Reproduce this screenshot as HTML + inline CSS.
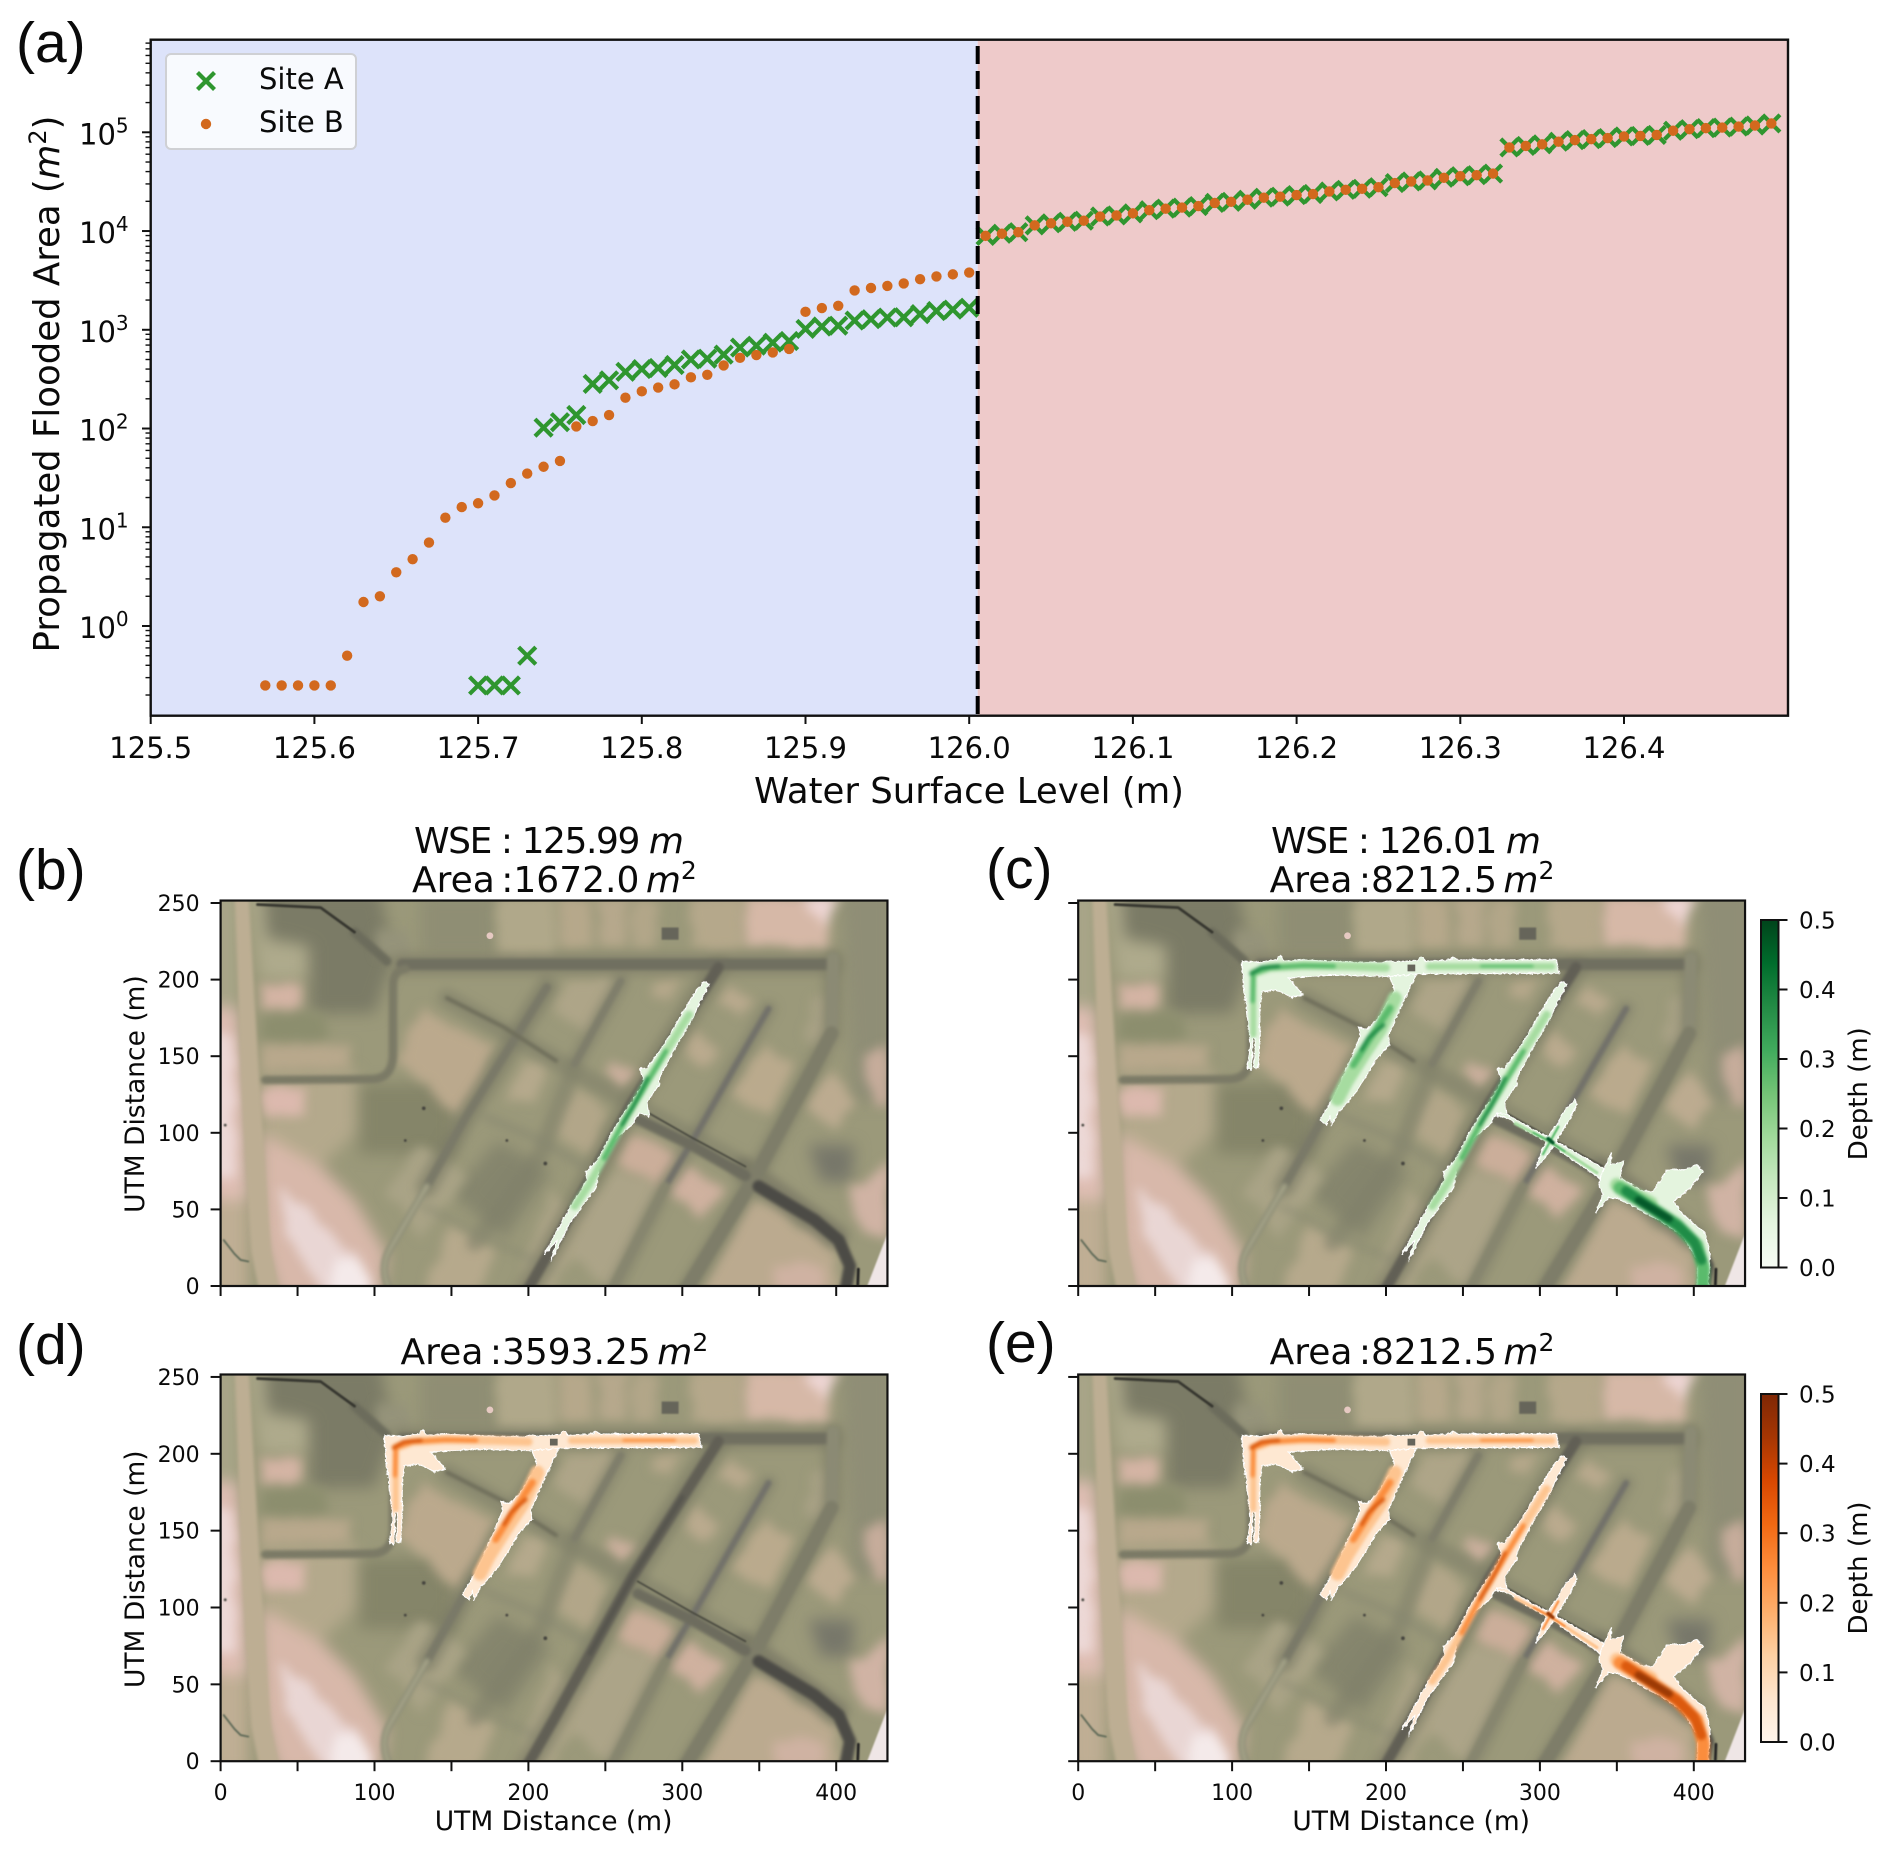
<!DOCTYPE html>
<html lang="en">
<head>
<meta charset="utf-8">
<title>Propagated flooded area versus water surface level</title>
<style>
html,body{margin:0;padding:0;background:#fff;}
svg{display:block;}
text{font-family:"DejaVu Sans","Liberation Sans",sans-serif;fill:#0a0a0a;}
.panel-tag{font-family:"Liberation Sans",sans-serif;font-size:57px;}
.tight{word-spacing:-5px;}
.green{--d0:#e4f4de;--d1:#a6dca0;--d2:#5abb6c;--d3:#1f8c47;--d4:#04592a;}
.orange{--d0:#fee8d2;--d1:#fdc48f;--d2:#fb8d3d;--d3:#dc5a0e;--d4:#9c3a05;}
.f0{fill:var(--d0);stroke:#fff;stroke-width:.7;}
.l1,.l2,.l3,.l4{fill:none;stroke-linecap:round;stroke-linejoin:round;}
.l1{stroke:var(--d1);}
.l2{stroke:var(--d2);}
.l3{stroke:var(--d3);}
.l4{stroke:var(--d4);}
</style>
</head>
<body>
<svg id="figure" xmlns="http://www.w3.org/2000/svg" width="1892" height="1853" viewBox="0 0 1892 1853">
<defs>
  <clipPath id="map-clip"><rect x="0" y="0" width="433.3" height="251.6"/></clipPath>
  <filter id="b8" filterUnits="userSpaceOnUse" x="-40" y="-40" width="520" height="340" color-interpolation-filters="sRGB"><feGaussianBlur stdDeviation="5"/></filter>
  <filter id="b3" filterUnits="userSpaceOnUse" x="-40" y="-40" width="520" height="340" color-interpolation-filters="sRGB"><feGaussianBlur stdDeviation="3"/></filter>
  <filter id="b1" filterUnits="userSpaceOnUse" x="-40" y="-40" width="520" height="340" color-interpolation-filters="sRGB"><feGaussianBlur stdDeviation="1"/></filter>
  <filter id="bf" filterUnits="userSpaceOnUse" x="-40" y="-40" width="520" height="340" color-interpolation-filters="sRGB"><feGaussianBlur stdDeviation="0.6"/></filter>
  <filter id="bd" filterUnits="userSpaceOnUse" x="-40" y="-40" width="520" height="340" color-interpolation-filters="sRGB"><feGaussianBlur stdDeviation="1.1"/></filter>
  <filter id="rb" filterUnits="userSpaceOnUse" x="-40" y="-40" width="520" height="340" color-interpolation-filters="sRGB">
    <feTurbulence type="fractalNoise" baseFrequency=".07" numOctaves="3" seed="5" result="n"/>
    <feDisplacementMap in="SourceGraphic" in2="n" scale="8" xChannelSelector="R" yChannelSelector="G" result="d"/>
    <feGaussianBlur in="d" stdDeviation="3.4"/>
  </filter>
  <filter id="rough" filterUnits="userSpaceOnUse" x="-40" y="-40" width="520" height="340" color-interpolation-filters="sRGB">
    <feTurbulence type="fractalNoise" baseFrequency=".45" numOctaves="2" seed="3" result="n"/>
    <feDisplacementMap in="SourceGraphic" in2="n" scale="2.200" xChannelSelector="R" yChannelSelector="G"/>
  </filter>
  <linearGradient id="greens-gradient" x1="0" y1="1" x2="0" y2="0">
    <stop offset="0" stop-color="#f7fcf5"/><stop offset=".125" stop-color="#e5f5e0"/><stop offset=".25" stop-color="#c7e9c0"/><stop offset=".375" stop-color="#a1d99b"/><stop offset=".5" stop-color="#74c476"/><stop offset=".625" stop-color="#41ab5d"/><stop offset=".75" stop-color="#238b45"/><stop offset=".875" stop-color="#006d2c"/><stop offset="1" stop-color="#00441b"/>
  </linearGradient>
  <linearGradient id="oranges-gradient" x1="0" y1="1" x2="0" y2="0">
    <stop offset="0" stop-color="#fff5eb"/><stop offset=".125" stop-color="#fee6ce"/><stop offset=".25" stop-color="#fdd0a2"/><stop offset=".375" stop-color="#fdae6b"/><stop offset=".5" stop-color="#fd8d3c"/><stop offset=".625" stop-color="#f16913"/><stop offset=".75" stop-color="#d94801"/><stop offset=".875" stop-color="#a63603"/><stop offset="1" stop-color="#7f2704"/>
  </linearGradient>

  <g id="terrain" clip-path="url(#map-clip)">
    <rect x="-2" y="-2" width="440" height="258" fill="#9b997a"/>
    <g filter="url(#b8)">
      <polygon points="26,140 88,140 88,100 65,78 26,100" fill="#b4a98c"/>
      <polygon points="26,100 65,78 87,56 108,21 104,-8 37,-8 26,34" fill="#d8b8aa"/>
      <polygon points="-8,182 11,182 16,120 18,56 -8,56" fill="#dfbeb4"/>
      <rect x="-8" y="-8" width="26" height="64" fill="#bfae94"/>
      <polygon points="-8,182 12,182 12,258 -8,258" fill="#a8a588"/>
      <polygon points="18,258 30,258 30,225 56,222 56,200 26,200" fill="#aeaa8c"/>
      <polygon points="90,132 152,132 152,86 90,86" fill="#858569"/>
      <polygon points="28,258 104,258 112,212 100,178 58,178 58,222 30,228" fill="#7b7b66"/>
      <polygon points="150,60 180,95 215,75 185,30" fill="#85856d"/>
      <polygon points="382,92 412,92 410,68 390,68" fill="#77776a"/>
      <polygon points="403,258 438,258 438,120 410,120" fill="#8f8e76"/>
      <rect x="130" y="216" width="50" height="40" fill="#8f8e74"/>
    </g>
    <g filter="url(#rb)">
      <polygon points="37,64 56,50 88,18 100,-6 68,-6 45,30" fill="#e9d6d4"/>
      <polygon points="76,20 92,14 98,-6 72,-6" fill="#f4eaea"/>
      <polygon points="-6,165 8,165 10,70 -6,70" fill="#ecd8d6"/>
      <polygon points="26,197 53,197 53,182 26,182" fill="#d4b4a4"/>
      <polygon points="27,179 69,179 69,160 27,160" fill="#8c8e6e"/>
      <polygon points="26,158 85,158 85,141 26,141" fill="#b8a88c"/>
      <polygon points="28,130 55,130 55,110 28,110" fill="#dcb9ae"/>
      <polygon points="130,180 180,156 156,110 115,147" fill="#bba98d"/>
      <polygon points="195,147 211,145 206,121 184,119" fill="#b5a98c"/>
      <polygon points="267,99.600 297.500,84.400 284.500,65 258.500,82" fill="#cbae9a"/>
      <polygon points="303,79 327,60.500 312.600,43 291,62.700" fill="#cfb19f"/>
      <polygon points="351.600,158 373,145 358,111.500 330,123.400" fill="#baaa8d"/>
      <polygon points="310.400,167 323.400,154 312.600,142 300.700,151.600" fill="#baaa8e"/>
      <polygon points="332,197 347,186.300 338.600,176.600 323.400,184" fill="#baaa8e"/>
      <polygon points="284.400,199.300 299,200 291,184 280,192.800" fill="#b6a88b"/>
      <polygon points="253,148.400 271.500,137.500 258.500,127.800 247.600,138.600" fill="#ccb09e"/>
      <polygon points="230,130 253,112.600 239,84.400 217,99.600" fill="#b2a689"/>
      <polygon points="397,140.800 412,121.300 399,101.800 377.600,119" fill="#bcab90"/>
      <polygon points="345,58 399,26 401,-6 310.400,-6" fill="#bbaa8f"/>
      <polygon points="360,14 392,14 392,-6 360,-6" fill="#cfb2a2"/>
      <polygon points="256,78 284.500,65 254,-6 222,28" fill="#aca488"/>
      <polygon points="215,62 240,40 215,-6 190,-6" fill="#aca487"/>
      <polygon points="130,92 160,72 130,30 108,62" fill="#a9a386"/>
      <polygon points="150,40 180,22 165,-6 130,-6" fill="#b6a98c"/>
      <polygon points="226,200 258,200 240,165 214,180" fill="#aea588"/>
      <polygon points="385,190 398,190 396,150 380,160" fill="#a9a286"/>
      <polygon points="408,62 434,82 434,30 416,36" fill="#d0b3a4"/>
      <polygon points="418,148 434,160 434,118 426,118" fill="#c6ac9b"/>
      <polygon points="180,254 217,254 217,215 180,215" fill="#b0a88a"/>
      <polygon points="220,254 241,254 241,220 220,220" fill="#b6a88b"/>
      <polygon points="246,254 264,254 264,220 246,220" fill="#b6a88c"/>
      <polygon points="267,254 284,254 284,220 267,220" fill="#b2a689"/>
      <polygon points="306,254 339,254 339,219 306,219" fill="#b5a88b"/>
      <polygon points="341,254 395,254 395,221 341,221" fill="#d6b8a7"/>
      <polygon points="378,254 402,254 391,234" fill="#edd5d3"/>
      <polygon points="102,234 123,234 123,214 102,214" fill="#95937a"/>
    </g>
    <g filter="url(#b3)" fill="none" stroke-linejoin="round" stroke-linecap="round">
      <path d="M118,210 L398,210" stroke="#7e7d68" stroke-width="15" opacity=".6"/>
      <path d="M323,208 L267,119 L217,28 L198,-5" stroke="#7c7c66" stroke-width="16" opacity=".65"/>
      <path d="M212,195 L158,108 L134,65" stroke="#7c7c66" stroke-width="14" opacity=".6"/>
      <path d="M147,188 L218,147 L271,117 L341,78" stroke="#7e7d68" stroke-width="12" opacity=".55"/>
      <path d="M260,199 L230,145 L208,86 L165,28" stroke="#80806a" stroke-width="11" opacity=".55"/>
      <path d="M356,181 L334,143 L308,97 L289,65 L254,-5" stroke="#80806a" stroke-width="11" opacity=".55"/>
      <path d="M340,76 L400,32" stroke="#6e6d5e" stroke-width="16" opacity=".6"/>
      <path d="M398,214 L397,165 L369,112 L347,71 L302,-5" stroke="#818069" stroke-width="14" opacity=".6"/>
      <path d="M173,110 L204,97 L240,76" stroke="#858570" stroke-width="6" opacity=".5"/>
      <path d="M132,52 L175,30 L215,12" stroke="#8a8a72" stroke-width="5" opacity=".5"/>
    </g>
    <path d="M9,258 L18,258 L26,120 L33,22 L38,-3 L25,-3 L20,22 L14,120 Z" fill="#bdae93" filter="url(#b1)"/>
    <g filter="url(#b1)" fill="none" stroke-linecap="round" stroke-linejoin="round">
      <path d="M118,210 L395,210" stroke="#706f60" stroke-width="7.500"/>
      <path d="M120,207 Q112,206 112,196 L112,152 Q112,135 98,135 L29,134.500" stroke="#7b7a66" stroke-width="5.500"/>
      <path d="M212,195 L158,108 L134,65" stroke="#7a7968" stroke-width="5.500"/>
      <path d="M134,65 L110,24 Q103,12 110,-3" stroke="#8e8e77" stroke-width="5"/>
      <path d="M134,65 L110,24 Q103,12 110,-3" stroke="#a5a388" stroke-width="2"/>
      <path d="M323.400,208 L267,119 L217,28 L198,-5" stroke="#615f55" stroke-width="7"/>
      <path d="M300,172 L267,119 L240,70" stroke="#55544d" stroke-width="2.500"/>
      <path d="M260,199 L230,145" stroke="#7f7e6b" stroke-width="5"/>
      <path d="M356,181 L334,143 L308,97 L289,65" stroke="#72716a" stroke-width="4"/>
      <path d="M289,65 L254,-3" stroke="#87866f" stroke-width="6"/>
      <path d="M398,214 L397,165" stroke="#8b8a74" stroke-width="8"/>
      <path d="M397,165 L369,112 L347,71 L302,-3" stroke="#7e7d69" stroke-width="9"/>
      <path d="M147,188 L184,169 L218,147" stroke="#6e6d5a" stroke-width="2.500"/>
      <path d="M271,109 L306,92 L341,72" stroke="#6d6c5e" stroke-width="7"/>
      <path d="M349.600,65 L386,43 L401.600,30 L409,13 L406,-3" stroke="#4c4b46" stroke-width="8"/>
      <path d="M87,231 L108,212" stroke="#6c6c5c" stroke-width="6"/>
    </g>
    <g fill="none" stroke-linecap="round" stroke-linejoin="round" filter="url(#bf)">
      <path d="M24,249 L65,247 L87,231" stroke="#36362f" stroke-width="1.800"/>
      <path d="M271,117 L306,97 L341,78" stroke="#4a4a40" stroke-width="1.200"/>
      <path d="M2,30 L9,21 L13,17 L18,16" stroke="#5f6a58" stroke-width="1.200"/>
      <path d="M414.400,11 L414,1" stroke="#222" stroke-width="1.800"/>
    </g>
    <polygon points="434,36 436,-3 419,-3" fill="#efe6e6" filter="url(#bf)"/>
    <rect x="286.600" y="226" width="11" height="8" fill="#66655a" filter="url(#bf)"/>
    <circle cx="175" cy="228.600" r="2.200" fill="#e6c9c2"/>
    <g fill="#45443e" filter="url(#bf)">
      <circle cx="132" cy="116" r="1.200"/><circle cx="120" cy="95" r=".9"/><circle cx="186" cy="95" r=".9"/><circle cx="211" cy="80" r="1.200"/><circle cx="3" cy="105" r=".9"/>
    </g>
  </g>

  <g id="flood-west">
    <path class="f0" filter="url(#rough)" d="M106.200,211.800 L120.300,211.400 L128.900,212.900 L131.100,216.200 L134.300,211.800 L145.200,212.900 L174.400,211.400 L193.900,211.400 L219.900,212.300 L223.100,214.700 L226.400,211.800 L241.500,212.900 L243.700,214.400 L247,212.900 L310.800,212.900 L312.600,204.200 L219.900,203.600 L202.600,202 L163.600,203.100 L136.500,201 L146.200,190 L138.700,188.300 L128.900,193.300 L119.200,192.200 L117.700,174.800 L118.100,159.600 L117,142.200 L114.200,142.200 L115,161.800 L113.300,161.800 L112.700,141.100 L109.900,142.200 L112,157.400 L109.400,181.400 L107.300,196.600 Z"/>
    <g filter="url(#bd)">
      <path class="l1" d="M113.800,204.200 L124.600,207.900 L146.200,209.200 L178.700,208.600 L200,207.800" stroke-width="5.500"/>
      <path class="l1" d="M228,208.600 L308,208.600" stroke-width="4.500"/>
      <path class="l1" d="M113.800,204 L113.800,181 L113.800,164" stroke-width="4"/>
      <path class="l2" d="M262,208.800 L295,208.800" stroke-width="1.800"/>
      <path class="l2" d="M113.800,204 L113.300,186" stroke-width="3"/>
      <path class="l2" d="M113.800,204.200 L124.600,207.900 L146.200,209.200 L166,208.800" stroke-width="3"/>
      <path class="l3" d="M112.600,204 L119,207.800 L130,208.700" stroke-width="2.600"/>
    </g>
    <rect x="214" y="205.400" width="5" height="4.400" fill="#66655a"/>
  </g>

  <g id="flood-spur">
    <path class="f0" filter="url(#rough)" d="M202.600,202 L205.800,192.200 L193.900,173.700 L187.400,167.200 L182,169.400 L183.100,162.800 L175.500,144.300 L165.700,122.600 L157.100,108.400 L161.400,105.100 L163.600,110.600 L164.700,105.100 L167.900,111.700 L180.900,126.900 L193.900,148.700 L202.600,157.400 L201.500,163.900 L212.300,187.900 L219.900,203.600 Z"/>
    <g filter="url(#bd)">
      <path class="l1" d="M205.800,187.900 L196.100,167.200 L185.200,150.900 L174.400,133.500 L168.500,122" stroke-width="9"/>
      <path class="l2" d="M202.600,181.400 L189.600,161.800 L178.700,144.300" stroke-width="4.500"/>
      <path class="l3" d="M198.200,170.300 L188.500,161.800 L184.200,154.200" stroke-width="2.400"/>
    </g>
  </g>

  <g id="flood-main">
    <path class="f0" filter="url(#rough)" d="M314.100,198.900 L308.700,192.400 L295.700,170.600 L288.200,157.600 L277.300,142.300 L272.300,141.900 L275.200,133.600 L267.600,120.600 L264.300,116.200 L254.600,101 L244.800,81.400 L237.300,74.800 L238.300,69.400 L229.700,55.200 L224.300,46.500 L210.200,20.400 L218.800,30.200 L214.500,16 L226.400,40 L237.300,55.200 L243.800,63.900 L245.900,79.200 L256.700,96.600 L267.600,105.300 L271.900,112.900 L278.400,110.800 L277.300,120.600 L284.900,131.400 L286,138 L297.900,159.700 L306.600,175 L317.400,196.800 Z"/>
    <g filter="url(#bd)">
      <path class="l1" d="M304.400,177.200 L293.600,159.700 L278.400,135.800 L261.100,105.300 L250.300,85.700 L239.400,66.100 L230,52" stroke-width="5"/>
      <path class="l2" d="M289.200,153.200 L274,127.100 L263.200,109.700 L249.200,83.500" stroke-width="3.200"/>
      <path class="l3" d="M277.300,135.800 L267.600,116.200 L261.100,105.300" stroke-width="2.200"/>
    </g>
  </g>

  <g id="flood-east">
    <path class="f0" filter="url(#rough)" d="M272.300,112.900 L278.400,111.800 L306.600,96.600 L341.200,77 L340.100,69.400 L319.600,83.500 L306.600,93.300 L293.600,99.900 L278.400,110.100 L271.900,110.800 Z"/>
    <path class="f0" filter="url(#rough)" d="M322.800,121.600 L323.900,118.400 L318.500,107.500 L313,98.800 L308.700,91.200 L303.300,83.500 L297.200,77 L301.200,87.900 L304.400,96.600 L310.900,105.300 L316.300,115.100 Z"/>
    <path class="f0" filter="url(#rough)" d="M346.600,86.800 L345.600,79.200 L354.200,81.400 L352,70.500 L367.200,61.800 L373.700,61.800 L382.400,75.900 L394.300,75.900 L401.900,79.200 L406.200,74.800 L397.500,63.900 L386.700,55.200 L393.200,46.500 L407.300,34.600 L410.500,20.400 L409.400,-2 L401.900,-2 L403,16 L393.200,32.400 L382.400,40 L362.900,50.900 L349.900,57.400 L344.500,57.400 L335.800,47.600 L341.200,59.600 L338,66.100 L340.100,72.700 Z"/>
    <g filter="url(#bf)">
      <path class="l1" d="M284,106 L306,94.500 L337,74" stroke-width="2"/>
      <path class="l2" d="M296,100 L306,94.500 L316,88" stroke-width="1.400"/>
      <path class="l2" d="M312,104 L302,86" stroke-width="1.400"/>
      <path class="l4" d="M305.400,96.200 L308.400,93.600" stroke-width="2.400"/>
    </g>
    <g filter="url(#bd)">
      <path class="l1" d="M350,66 L372,54" stroke-width="9"/>
      <path class="l2" d="M352,63.900 L369.400,53 L388.900,40 L401.900,26.900 L406.200,11.700 L405.800,-2" stroke-width="8.500"/>
      <path class="l3" d="M356,62 L372,51 L390,39 L400,29 L405,17" stroke-width="6.500"/>
      <path class="l4" d="M364,56 L384,44" stroke-width="5"/>
    </g>
  </g>
</defs>

<rect id="page-background" x="0" y="0" width="1892" height="1853" fill="#ffffff"/>

<g id="panel-a">
  <rect x="150.700" y="39.700" width="827" height="676" fill="#dde3fa"/>
  <rect x="977.700" y="39.700" width="810.300" height="676" fill="#eecaca"/>
  <g id="a-marks"></g>
  <line x1="977.700" y1="46" x2="977.700" y2="715" stroke="#000" stroke-width="4" stroke-dasharray="18 7"/>
  <rect x="150.700" y="39.700" width="1637.300" height="676" fill="none" stroke="#111" stroke-width="2.400"/>
  <g id="a-axes"></g>
  <text x="969" y="803" font-size="35.500" text-anchor="middle">Water Surface Level (m)</text>
  <text transform="translate(59,384) rotate(-90)" font-size="35.500" text-anchor="middle">Propagated Flooded Area (<tspan font-style="italic">m</tspan><tspan dy="-13" font-size="24">2</tspan><tspan dy="13">)</tspan></text>
  <g>
    <rect x="166" y="54" width="190" height="95" rx="5" fill="#ffffff" fill-opacity=".8" stroke="#cfd0d4" stroke-width="2"/>
    <g>
      <path d="M197.500,72.500 L214.500,89.500 M214.500,72.500 L197.500,89.500" stroke="#2f962f" stroke-width="4.200" fill="none"/>
      <text x="259" y="89" font-size="29">Site A</text>
    </g>
    <g>
      <circle cx="206" cy="124" r="5.200" fill="#d2691e"/>
      <text x="259" y="132" font-size="29">Site B</text>
    </g>
  </g>
</g>
<text class="panel-tag" x="16" y="62">(a)</text>
<text class="panel-tag" x="16" y="889">(b)</text>
<text class="panel-tag" x="986" y="888">(c)</text>
<text class="panel-tag" x="16" y="1364">(d)</text>
<text class="panel-tag" x="986" y="1362">(e)</text>

<g>
  <text x="549" y="853" font-size="36" text-anchor="middle" textLength="270" lengthAdjust="spacing">WSE : 125.99 <tspan font-style="italic">m</tspan></text>
  <text class="tight" x="554.400" y="892" font-size="36" text-anchor="middle">Area :1672.0 <tspan font-style="italic">m</tspan><tspan dy="-13" font-size="25">2</tspan></text>
</g>
<g>
  <text x="1406" y="853" font-size="36" text-anchor="middle" textLength="270" lengthAdjust="spacing">WSE : 126.01 <tspan font-style="italic">m</tspan></text>
  <text class="tight" x="1412" y="892" font-size="36" text-anchor="middle">Area :8212.5 <tspan font-style="italic">m</tspan><tspan dy="-13" font-size="25">2</tspan></text>
</g>
<text class="tight" x="554.400" y="1364" font-size="36" text-anchor="middle">Area :3593.25 <tspan font-style="italic">m</tspan><tspan dy="-13" font-size="25">2</tspan></text>
<text class="tight" x="1412" y="1364" font-size="36" text-anchor="middle">Area :8212.5 <tspan font-style="italic">m</tspan><tspan dy="-13" font-size="25">2</tspan></text>

<g id="map-b" class="green"></g>
<g id="map-c" class="green"></g>
<g id="map-d" class="orange"></g>
<g id="map-e" class="orange"></g>
</svg>

<script>
const xTickValues = [125.5, 125.6, 125.7, 125.8, 125.9, 126.0, 126.1, 126.2, 126.3, 126.4];
const yTickExponents = [0, 1, 2, 3, 4, 5];
const siteALevels = [125.70,125.71,125.72,125.73,125.74,125.75,125.76,125.77,125.78,125.79,125.80,125.81,125.82,125.83,125.84,125.85,125.86,125.87,125.88,125.89,125.90,125.91,125.92,125.93,125.94,125.95,125.96,125.97,125.98,125.99,126.00,126.01,126.02,126.03,126.04,126.05,126.06,126.07,126.08,126.09,126.10,126.11,126.12,126.13,126.14,126.15,126.16,126.17,126.18,126.19,126.20,126.21,126.22,126.23,126.24,126.25,126.26,126.27,126.28,126.29,126.30,126.31,126.32,126.33,126.34,126.35,126.36,126.37,126.38,126.39,126.40,126.41,126.42,126.43,126.44,126.45,126.46,126.47,126.48,126.49];
const siteAAreas = [0.25,0.25,0.25,0.5,102,116,137,283,308,375,400,410,440,500,510,560,660,690,740,770,1020,1080,1100,1240,1280,1330,1340,1440,1550,1600,1672,8935,9386,9730,11410,11980,12420,12730,14030,14380,15100,16250,16860,17270,17910,19280,19760,20750,21770,22300,23130,23710,25180,26130,26790,27790,30620,31770,32570,34610,35900,36810,38190,70210,72820,75540,80300,83300,85300,87500,90800,91800,94100,103700,107600,110200,111600,114300,117200,123000];
const siteBLevels = [125.57,125.58,125.59,125.60,125.61,125.62,125.63,125.64,125.65,125.66,125.67,125.68,125.69,125.70,125.71,125.72,125.73,125.74,125.75,125.76,125.77,125.78,125.79,125.80,125.81,125.82,125.83,125.84,125.85,125.86,125.87,125.88,125.89,125.90,125.91,125.92,125.93,125.94,125.95,125.96,125.97,125.98,125.99,126.00,126.01,126.02,126.03,126.04,126.05,126.06,126.07,126.08,126.09,126.10,126.11,126.12,126.13,126.14,126.15,126.16,126.17,126.18,126.19,126.20,126.21,126.22,126.23,126.24,126.25,126.26,126.27,126.28,126.29,126.30,126.31,126.32,126.33,126.34,126.35,126.36,126.37,126.38,126.39,126.40,126.41,126.42,126.43,126.44,126.45,126.46,126.47,126.48,126.49];
const siteBAreas = [0.25,0.25,0.25,0.25,0.25,0.5,1.75,2.0,3.5,4.75,7.0,12.5,16,17.5,21,28,35,41,47,105,119,137,205,238,260,280,330,350,435,520,555,590,640,1520,1660,1750,2500,2650,2780,2950,3250,3470,3640,3800,8935,9386,9730,11410,11980,12420,12730,14030,14380,15100,16250,16860,17270,17910,19280,19760,20750,21770,22300,23130,23710,25180,26130,26790,27790,30620,31770,32570,34610,35900,36810,38190,70210,72820,75540,80300,83300,85300,87500,90800,91800,94100,103700,107600,110200,111600,114300,117200,123000];
const mapXTickValues = [0, 50, 100, 150, 200, 250, 300, 350, 400];
const mapXTickLabels = ["0", "", "100", "", "200", "", "300", "", "400"];
const mapYTickValues = [0, 50, 100, 150, 200, 250];
const depthTickValues = [0.0, 0.1, 0.2, 0.3, 0.4, 0.5];

const SVGNS = "http://www.w3.org/2000/svg";
function make(tag, parent, attrs) {
  const el = document.createElementNS(SVGNS, tag);
  for (const k in attrs) el.setAttribute(k, attrs[k]);
  parent.appendChild(el);
  return el;
}
function xScaleA(v) { return 150.7 + (v - 125.5) * 1637; }
function yScaleA(v) { return 626 - 98.74 * Math.log10(v); }

const aMarks = document.getElementById("a-marks");
const aAxes = document.getElementById("a-axes");

siteALevels.forEach(function (lv, i) {
  const x = xScaleA(lv), y = yScaleA(siteAAreas[i]), h = 8.6;
  const m = make("path", aMarks, { d: "M" + (x - h) + "," + (y - h) + " L" + (x + h) + "," + (y + h) + " M" + (x + h) + "," + (y - h) + " L" + (x - h) + "," + (y + h), stroke: "#2f962f", "stroke-width": 4.2, fill: "none" });
  
  
});
siteBLevels.forEach(function (lv, i) {
  const c = make("circle", aMarks, { cx: xScaleA(lv), cy: yScaleA(siteBAreas[i]), r: 5.2, fill: "#d2691e" });
  
  
});

xTickValues.forEach(function (v) {
  const x = xScaleA(v);
  const t = make("line", aAxes, { x1: x, x2: x, y1: 715.7, y2: 724, stroke: "#111", "stroke-width": 2 });
  
  
  const l = make("text", aAxes, { x: x, y: 758, "font-size": 29, "text-anchor": "middle" });
  l.textContent = v.toFixed(1);
  
  
});
yTickExponents.forEach(function (e) {
  const y = yScaleA(Math.pow(10, e));
  const t = make("line", aAxes, { x1: 150.7, x2: 142, y1: y, y2: y, stroke: "#111", "stroke-width": 2 });
  
  
  const l = make("text", aAxes, { x: 79, y: y + 12, "font-size": 29 });
  
  
  l.appendChild(document.createTextNode("10"));
  const s = make("tspan", l, { dy: -12, "font-size": 20 });
  s.textContent = String(e);
});
for (let d = -1; d <= 5; d++) {
  for (let k = 2; k <= 9; k++) {
    const v = k * Math.pow(10, d);
    const y = yScaleA(v);
    if (y < 39.7 || y > 715.5) continue;
    const t = make("line", aAxes, { x1: 150.7, x2: 145.5, y1: y, y2: y, stroke: "#111", "stroke-width": 1.4 });
    
    
  }
}

function drawMap(id, left, bottom, sx, sy, floods, showYLabels, showXLabels, yTitle) {
  const root = document.getElementById(id);
  const g = make("g", root, { transform: "translate(" + left + "," + bottom + ") scale(" + sx + "," + (-sy) + ")" });
  
  
  const u = make("use", g, { href: "#terrain" });
  
  
  const fg = make("g", g, { "clip-path": "url(#map-clip)" });
  
  
  floods.forEach(function (f) {
    const fu = make("use", fg, { href: "#" + f });
    
    
  });
  const top = bottom - 251.6 * sy;
  const right = left + 433.3 * sx;
  const frame = make("rect", root, { x: left, y: top, width: right - left, height: bottom - top, fill: "none", stroke: "#111", "stroke-width": 2.2 });
  
  
  mapXTickValues.forEach(function (v, i) {
    const x = left + v * sx;
    const t = make("line", root, { x1: x, x2: x, y1: bottom, y2: bottom + 10, stroke: "#111", "stroke-width": 2 });
    
    
    if (showXLabels && mapXTickLabels[i]) {
      const l = make("text", root, { x: x, y: bottom + 39, "font-size": 22, "text-anchor": "middle" });
      l.textContent = mapXTickLabels[i];
      
      
    }
  });
  mapYTickValues.forEach(function (v) {
    const y = bottom - v * sy;
    const t = make("line", root, { x1: left, x2: left - 10, y1: y, y2: y, stroke: "#111", "stroke-width": 2 });
    
    
    if (showYLabels) {
      const l = make("text", root, { x: left - 21, y: y + 8, "font-size": 22, "text-anchor": "end" });
      l.textContent = String(v);
      
      
    }
  });
  if (yTitle) {
    const yl = make("text", root, { transform: "translate(144," + (bottom - 192) + ") rotate(-90)", "font-size": 26.5, "text-anchor": "middle" });
    yl.textContent = "UTM Distance (m)";
    
    
  }
  if (showXLabels) {
    const xl = make("text", root, { x: left + 333, y: bottom + 69, "font-size": 26.5, "text-anchor": "middle" });
    xl.textContent = "UTM Distance (m)";
    
    
  }
}

function drawColorbar(id, top, bottom, gradient) {
  const root = document.getElementById(id);
  const x0 = 1761, x1 = 1778.5;
  const r = make("rect", root, { x: x0, y: top, width: x1 - x0, height: bottom - top, fill: "url(#" + gradient + ")", stroke: "#111", "stroke-width": 2 });
  
  
  depthTickValues.forEach(function (v) {
    const y = bottom - (v / 0.5) * (bottom - top);
    const t = make("line", root, { x1: x1, x2: x1 + 9, y1: y, y2: y, stroke: "#111", "stroke-width": 2 });
    
    
    const l = make("text", root, { x: 1799, y: y + 8.5, "font-size": 23 });
    l.textContent = v.toFixed(1);
    
    
  });
  const title = make("text", root, { transform: "translate(1867," + ((top + bottom) / 2) + ") rotate(-90)", "font-size": 26, "text-anchor": "middle" });
  title.textContent = "Depth (m)";
  
  
}

drawMap("map-b", 220.6, 1286, 1.539, 1.532, ["flood-main"], true, false, true);
drawMap("map-c", 1078.2, 1286, 1.539, 1.532, ["flood-west", "flood-spur", "flood-main", "flood-east"], false, false, false);
drawMap("map-d", 220.6, 1761.2, 1.539, 1.537, ["flood-west", "flood-spur"], true, true, true);
drawMap("map-e", 1078.2, 1761.2, 1.539, 1.537, ["flood-west", "flood-spur", "flood-main", "flood-east"], false, true, false);
drawColorbar("map-c", 920, 1267.5, "greens-gradient");
drawColorbar("map-e", 1394, 1742, "oranges-gradient");
</script>
</body>
</html>
